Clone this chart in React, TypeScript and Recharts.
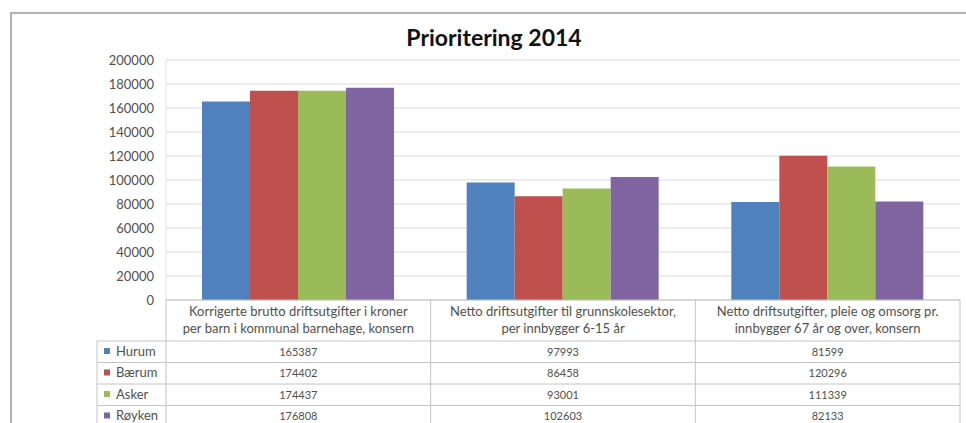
import React from 'react';
import { BarChart, Bar, XAxis, YAxis, CartesianGrid } from 'recharts';

const categories = ['Barnehage', 'Grunnskole', 'Pleie og omsorg'];
const categoryLines = [
    ['Korrigerte brutto driftsutgifter i kroner', 'per barn i kommunal barnehage, konsern'],
    ['Netto driftsutgifter til grunnskolesektor,', 'per innbygger 6-15 år'],
    ['Netto driftsutgifter, pleie og omsorg pr.', 'innbygger 67 år og over, konsern'],
];
const seriesNames = ['Hurum', 'Bærum', 'Asker', 'Røyken'];
const hurum = [165387, 97993, 81599];
const baerum = [174402, 86458, 120296];
const asker = [174437, 93001, 111339];
const royken = [176808, 102603, 82133];
const yTicks = [0, 20000, 40000, 60000, 80000, 100000, 120000, 140000, 160000, 180000, 200000];

const seriesValues = [hurum, baerum, asker, royken];
const colors = ['#4F81BD', '#C0504D', '#9BBB59', '#8064A2'];

const data = categories.map((c, i) => {
    const row: any = { name: c };
    seriesNames.forEach((s, j) => { row[s] = seriesValues[j][i]; });
    return row;
});

const W = 966;
const H = 423;
const MARGIN = { top: 60, right: 6, bottom: 0, left: 106 };
const Y_AXIS_W = 60;
const X_AXIS_H = 123;
const PLOT_W = W - MARGIN.left - MARGIN.right - Y_AXIS_W;
const HEADER_H = 41;
const ROW_H = 21.5;
const LEGEND_W = 69;
const FONT = 'Lato, "Open Sans", sans-serif';
const TEXT = '#505050';
const LINE = '#c4c4c4';

// draws one column of the data table under each category (header + values)
const TableColumn = (props: any) => {
    const { x, y, index, width, visibleTicksCount } = props;
    const colW = typeof width === 'number' && visibleTicksCount ? width / visibleTicksCount : PLOT_W / categories.length;
    const left = x - colW / 2;
    const right = x + colW / 2;
    const bottom = y + HEADER_H + ROW_H * seriesNames.length;
    const legendLeft = left - LEGEND_W;
    const lines = categoryLines[index] ?? [];
    return (
        <g>
            {lines.map((t, k) => (
                <text key={k} x={x} y={y + 16 + k * 17} textAnchor="middle" fill={TEXT} fontSize={13} fontFamily={FONT}>
                    {t}
                </text>
            ))}
            <line x1={right} y1={y} x2={right} y2={bottom} stroke={LINE} />
            {index === 0 && <line x1={left} y1={y} x2={left} y2={bottom} stroke={LINE} />}
            {index === 0 && <line x1={legendLeft} y1={y + HEADER_H} x2={legendLeft} y2={bottom} stroke={LINE} />}
            {seriesNames.map((s, j) => {
                const top = y + HEADER_H + ROW_H * j;
                return (
                    <g key={s}>
                        <line x1={index === 0 ? legendLeft : left} y1={top} x2={right} y2={top} stroke={LINE} />
                        <text x={x} y={top + 14.5} textAnchor="middle" fill={TEXT} fontSize={11} fontFamily={FONT}>
                            {seriesValues[j][index]}
                        </text>
                        {index === 0 && (
                            <g>
                                <rect x={legendLeft + 7} y={top + 7} width={6} height={6} fill={colors[j]} />
                                <text x={legendLeft + 19} y={top + 14.5} fill={TEXT} fontSize={13} fontFamily={FONT}>
                                    {s}
                                </text>
                            </g>
                        )}
                    </g>
                );
            })}
        </g>
    );
};

export default function App() {
    return (
        <div style={{ position: 'absolute', left: 0, top: 0, width: W, height: H, overflow: 'hidden', background: '#fff' }}>
            <div
                style={{
                    position: 'absolute',
                    left: 10,
                    top: 12,
                    width: 1000,
                    height: 500,
                    borderTop: '2px solid #b4b4b4',
                    borderLeft: '2px solid #b4b4b4',
                }}
            />
            <div
                style={{
                    position: 'absolute',
                    left: 10,
                    width: 968,
                    top: 23,
                    textAlign: 'center',
                    fontFamily: FONT,
                    fontWeight: 700,
                    fontSize: 23,
                    color: '#111',
                }}
            >
                Prioritering 2014
            </div>
            <div style={{ position: 'absolute', left: 0, top: 0 }}>
                <BarChart
                    width={W}
                    height={H}
                    data={data}
                    margin={MARGIN}
                    barCategoryGap="13.6%"
                    barGap={0}
                >
                    <CartesianGrid stroke="#d9d9d9" vertical={false} />
                    <XAxis
                        dataKey="name"
                        height={X_AXIS_H}
                        axisLine={{ stroke: LINE }}
                        tickLine={false}
                        tickSize={0}
                        tickMargin={0}
                        interval={0}
                        tick={<TableColumn />}
                    />
                    <YAxis
                        width={Y_AXIS_W}
                        domain={[0, 200000]}
                        ticks={yTicks}
                        interval={0}
                        axisLine={{ stroke: '#e0e0e0' }}
                        tickLine={false}
                        tickSize={6}
                        tickMargin={6}
                        tick={{ fill: TEXT, fontSize: 13, fontFamily: FONT }}
                    />
                    {seriesNames.map((s, j) => (
                        <Bar key={s} dataKey={s} fill={colors[j]} isAnimationActive={false} />
                    ))}
                </BarChart>
            </div>
        </div>
    );
}
